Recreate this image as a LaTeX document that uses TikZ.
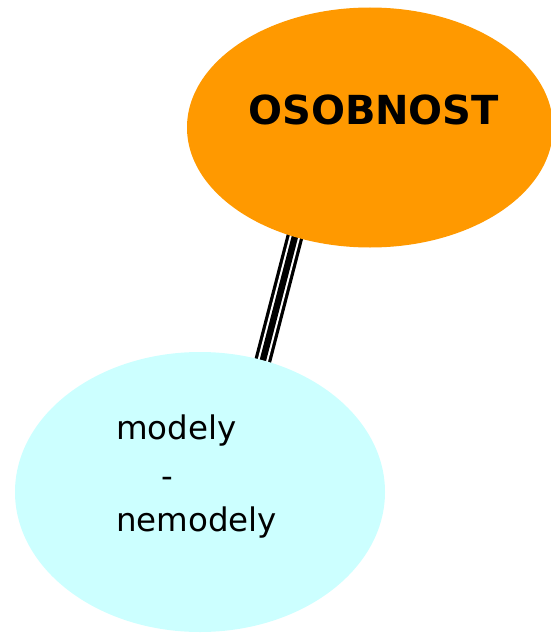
\documentclass[tikz,border=0pt]{standalone}
\usepackage{fontspec}
\setmainfont{DejaVu Sans}
\usetikzlibrary{shapes.geometric}
\definecolor{blobOrange}{HTML}{FF9900}
\definecolor{blobCyan}{HTML}{CCFFFF}
\tikzset{
  blob/.style={ellipse, inner sep=0pt, draw=none},
  word/.style={inner sep=0pt, anchor=base west, text=black},
  rope/.style={line cap=butt}
}
\begin{document}
\begin{tikzpicture}[x=1pt,y=-1pt]
  \useasboundingbox (0,0) rectangle (551,634);
  \clip (0,0) rectangle (551,634);
  % link ends, tucked under the two ellipses
  \coordinate (topEnd) at (300.5,215);
  \coordinate (botEnd) at (256.5,385);
  % triple-stripe connector
  \draw[rope, black, line width=17pt] (topEnd) -- (botEnd);
  \draw[rope, white, line width=10.5pt] (topEnd) -- (botEnd);
  \draw[rope, black, line width=6.5pt] (topEnd) -- (botEnd);
  % ellipses
  \node[blob, fill=blobOrange, minimum width=366pt, minimum height=240pt] (osob) at (370,127.5) {};
  \node[blob, fill=blobCyan, minimum width=370pt, minimum height=280pt] (model) at (200,492) {};
  % labels
  \node[word, font=\fontsize{40}{48}\selectfont\bfseries] (tOsob) at (248,124) {OSOBNOST};
  \node[word, font=\fontsize{32.5}{37}\selectfont] (tModely) at (116,439) {modely};
  \node[word, font=\fontsize{32.5}{37}\selectfont] (tDash) at (161,487) {-};
  \node[word, font=\fontsize{32.5}{37}\selectfont] (tNemodely) at (116,531) {nemodely};
\end{tikzpicture}
\end{document}
